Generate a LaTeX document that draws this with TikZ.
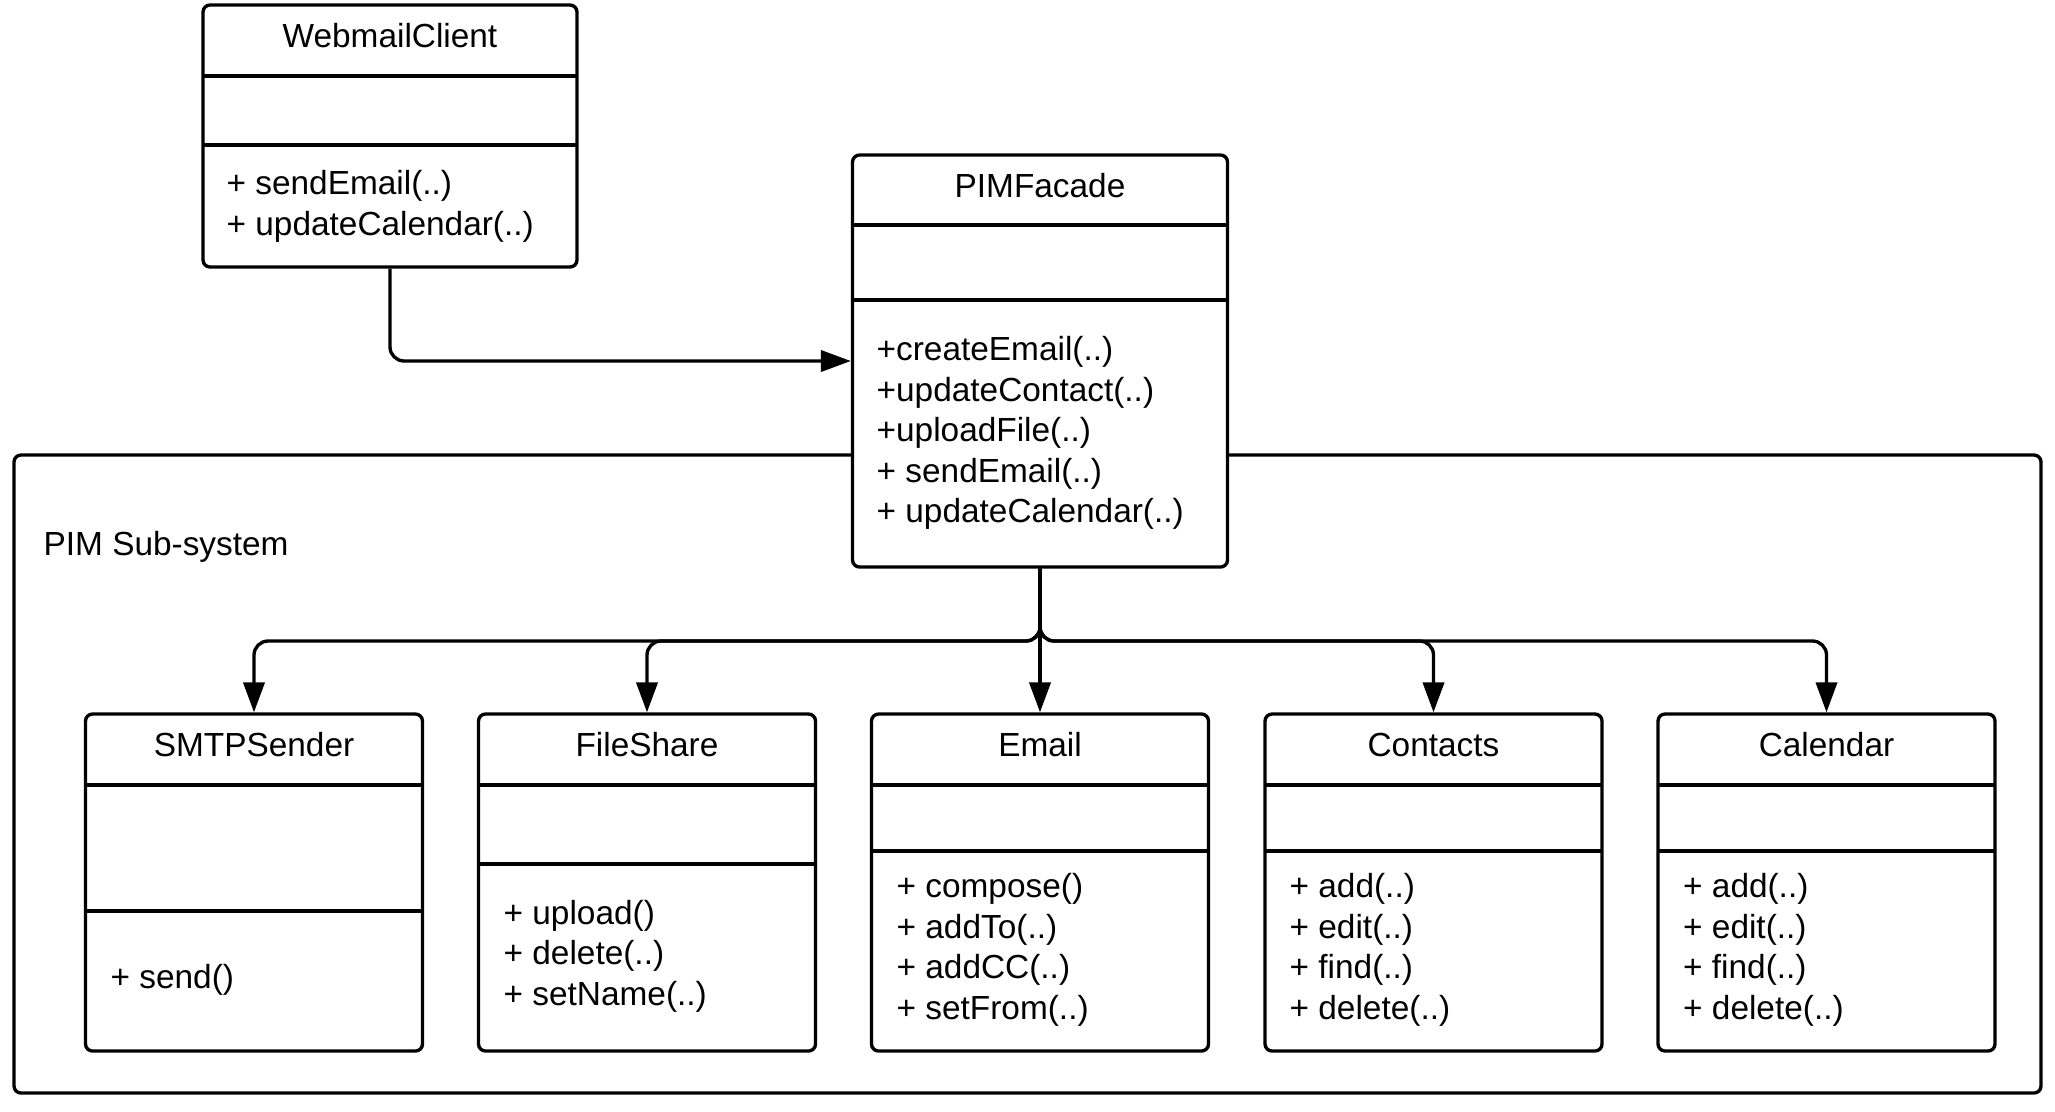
\documentclass[tikz,border=0pt]{standalone}
\usepackage{fontspec}
\setmainfont{Liberation Sans}
\usetikzlibrary{positioning}
\usetikzlibrary{arrows.meta}

\begin{document}
\begin{tikzpicture}[
  line width=0.95pt,
  umlbox/.style={draw, fill=white, rounded corners=2pt, inner sep=0pt},
  cname/.style={font=\fontsize{9.5}{11.55}\selectfont, inner sep=0pt},
  ops/.style={font=\fontsize{9.5}{11.55}\selectfont, align=left, anchor=west, inner sep=0pt},
  link/.style={-{Triangle[length=8.5pt,width=6pt]}, rounded corners=4pt}]
  \useasboundingbox (0,0) rectangle (20.55,-11.11);
  % sub-system frame
  \draw[rounded corners=2pt] (0.14,-4.55) rectangle (20.41,-10.93);
  \node[cname, anchor=west] (sublabel) at (0.42,-5.465) {PIM Sub-system};
  % client
  \node[umlbox, minimum width=3.74cm, minimum height=2.62cm] (web) at (3.90,-1.36) {};
  \node[cname] (webname) at (3.90,-0.36) {WebmailClient};
  \draw (2.03,-0.76) -- (5.77,-0.76);
  \draw (2.03,-1.45) -- (5.77,-1.45);
  \node[ops] (webops) at (2.25,-2.065) {+ sendEmail(..)\\+ updateCalendar(..)};
  % facade
  \node[umlbox, minimum width=3.75cm, minimum height=4.12cm] (pim) at (10.40,-3.61) {};
  \node[cname] (pimname) at (10.40,-1.86) {PIMFacade};
  \draw (8.525,-2.25) -- (12.275,-2.25);
  \draw (8.525,-3.00) -- (12.275,-3.00);
  \node[ops] (pimops) at (8.75,-4.33) {+createEmail(..)\\+updateContact(..)\\+uploadFile(..)\\+ sendEmail(..)\\+ updateCalendar(..)};
  % sub-system classes
  \node[umlbox, minimum width=3.37cm, minimum height=3.37cm] (smtp) at (2.54,-8.825) {};
  \node[cname] (smtpname) at (2.54,-7.445) {SMTPSender};
  \draw (0.855,-7.85) -- (4.225,-7.85);
  \draw (0.855,-9.11) -- (4.225,-9.11);
  \node[ops] (smtpops) at (1.09,-9.795) {+ send()};
  \node[umlbox, minimum width=3.37cm, minimum height=3.37cm] (share) at (6.47,-8.825) {};
  \node[cname] (sharename) at (6.47,-7.445) {FileShare};
  \draw (4.785,-7.85) -- (8.155,-7.85);
  \draw (4.785,-8.64) -- (8.155,-8.64);
  \node[ops] (shareops) at (5.02,-9.56) {+ upload()\\+ delete(..)\\+ setName(..)};
  \node[umlbox, minimum width=3.37cm, minimum height=3.37cm] (email) at (10.40,-8.825) {};
  \node[cname] (emailname) at (10.40,-7.445) {Email};
  \draw (8.715,-7.85) -- (12.085,-7.85);
  \draw (8.715,-8.51) -- (12.085,-8.51);
  \node[ops] (emailops) at (8.95,-9.50) {+ compose()\\+ addTo(..)\\+ addCC(..)\\+ setFrom(..)};
  \node[umlbox, minimum width=3.37cm, minimum height=3.37cm] (contacts) at (14.335,-8.825) {};
  \node[cname] (contactsname) at (14.335,-7.445) {Contacts};
  \draw (12.65,-7.85) -- (16.02,-7.85);
  \draw (12.65,-8.51) -- (16.02,-8.51);
  \node[ops] (contactsops) at (12.88,-9.50) {+ add(..)\\+ edit(..)\\+ find(..)\\+ delete(..)};
  \node[umlbox, minimum width=3.37cm, minimum height=3.37cm] (cal) at (18.265,-8.825) {};
  \node[cname] (calname) at (18.265,-7.445) {Calendar};
  \draw (16.58,-7.85) -- (19.95,-7.85);
  \draw (16.58,-8.51) -- (19.95,-8.51);
  \node[ops] (calops) at (16.815,-9.50) {+ add(..)\\+ edit(..)\\+ find(..)\\+ delete(..)};
  % connectors
  \draw[link] (web.south) |- (pim.west);
  \coordinate (bus) at (10.40,-6.41);
  \draw[link] (pim.south) -- (bus) -| (smtp.north);
  \draw[link] (pim.south) -- (bus) -| (share.north);
  \draw[link] (pim.south) -- (email.north);
  \draw[link] (pim.south) -- (bus) -| (contacts.north);
  \draw[link] (pim.south) -- (bus) -| (cal.north);
\end{tikzpicture}
\end{document}
